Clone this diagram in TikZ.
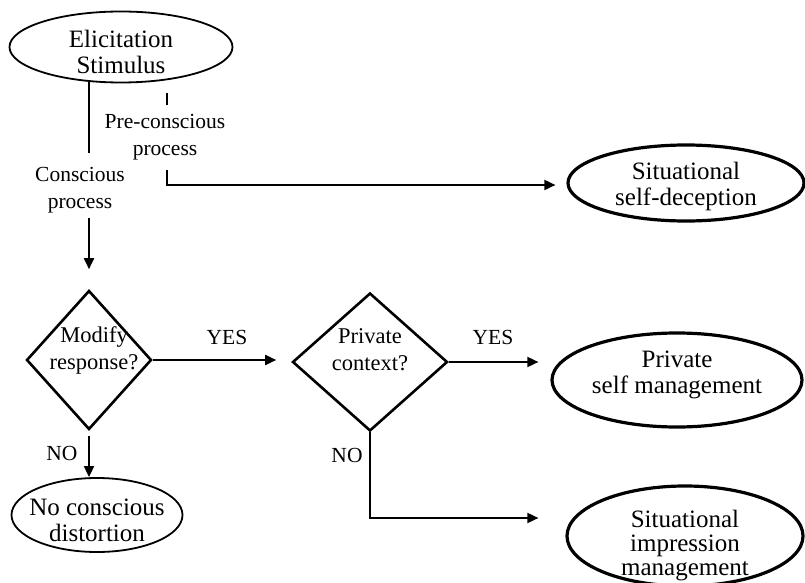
\documentclass[tikz,border=0pt]{standalone}
\usepackage{fontspec}
\setmainfont{Liberation Serif}
\usetikzlibrary{shapes.geometric,arrows.meta}
\begin{document}
\begin{tikzpicture}[x=1pt,y=1pt,
 oval/.style={ellipse,draw,inner sep=0pt},
 thin oval/.style={oval,line width=1.8pt},
 thick oval/.style={oval,line width=3.2pt},
 ovaltext/.style={align=center,inner sep=0pt,font=\fontsize{25}{26}\selectfont},
 decision/.style={diamond,draw,line width=2.6pt,inner sep=0pt},
 dtext/.style={align=center,inner sep=0pt,font=\fontsize{22.5}{27}\selectfont},
 lbl/.style={align=center,inner sep=0pt,font=\fontsize{21.5}{27}\selectfont},
 conn/.style={line width=1.8pt},
 arr/.style={conn,-{Triangle[length=11pt,width=10pt]}}]
\useasboundingbox (0,0) rectangle (805,-583);

% nodes
\node[thin oval,minimum width=223,minimum height=71] (E) at (121,-47) {};
\node[ovaltext] (Et) at (121,-52) {Elicitation\\Stimulus};

\node[thick oval,minimum width=236,minimum height=76] (SD) at (686,-183) {};
\node[ovaltext] (SDt) at (686,-186) {Situational\\self-deception};

\node[decision,minimum width=125,minimum height=139] (D1) at (89,-360) {};
\node[dtext] (D1t) at (94,-350) {Modify\\response?};

\node[decision,minimum width=155,minimum height=138] (D2) at (370,-362) {};
\node[dtext] (D2t) at (370,-350) {Private\\context?};

\node[thick oval,minimum width=250,minimum height=94] (PSM) at (677,-380) {};
\node[ovaltext] (PSMt) at (677,-375) {Private\\self management};

\node[thin oval,minimum width=171,minimum height=74] (NCD) at (97,-515) {};
\node[ovaltext] (NCDt) at (97,-520) {No conscious\\distortion};

\node[thick oval,minimum width=236,minimum height=100] (SIM) at (685,-536) {};
\node[ovaltext,font=\fontsize{25}{24}\selectfont] (SIMt) at (685,-546) {Situational\\impression\\management};

% labels
\node[lbl] (Lc) at (80,-190) {Conscious\\process};
\node[lbl] (Lp) at (165,-137) {Pre-conscious\\process};
\node[lbl] (Y1) at (227,-337) {YES};
\node[lbl] (Y2) at (493,-337) {YES};
\node[lbl] (N1) at (62,-453) {NO};
\node[lbl] (N2) at (347,-455) {NO};

% coordinates
\coordinate (c1a) at (89,-81);
\coordinate (c1b) at (89,-153);
\coordinate (c2a) at (89,-218);
\coordinate (p1a) at (167,-93);
\coordinate (p1b) at (167,-105);
\coordinate (p2a) at (167,-170);
\coordinate (p2b) at (167,-185);
\coordinate (n2) at (370,-518);

% connectors
\draw[conn] (c1a) -- (c1b);
\draw[arr,shorten >=20pt] (c2a) -- (D1.north);
\draw[conn] (p1a) -- (p1b);
\draw[arr,shorten >=11pt] (p2a) -- (p2b) -- (p2b -| SD.west);
\draw[arr,shorten >=15pt] (D1.east) -- (D1.east -| D2.west);
\draw[arr,shorten <=5pt] (D1.south) -- (D1.south |- NCD.north);
\draw[arr,shorten >=12pt] (D2.east) -- (D2.east -| PSM.west);
\draw[arr,shorten >=27pt] (D2.south) -- (n2) -- (n2 -| SIM.west);
\end{tikzpicture}
\end{document}
